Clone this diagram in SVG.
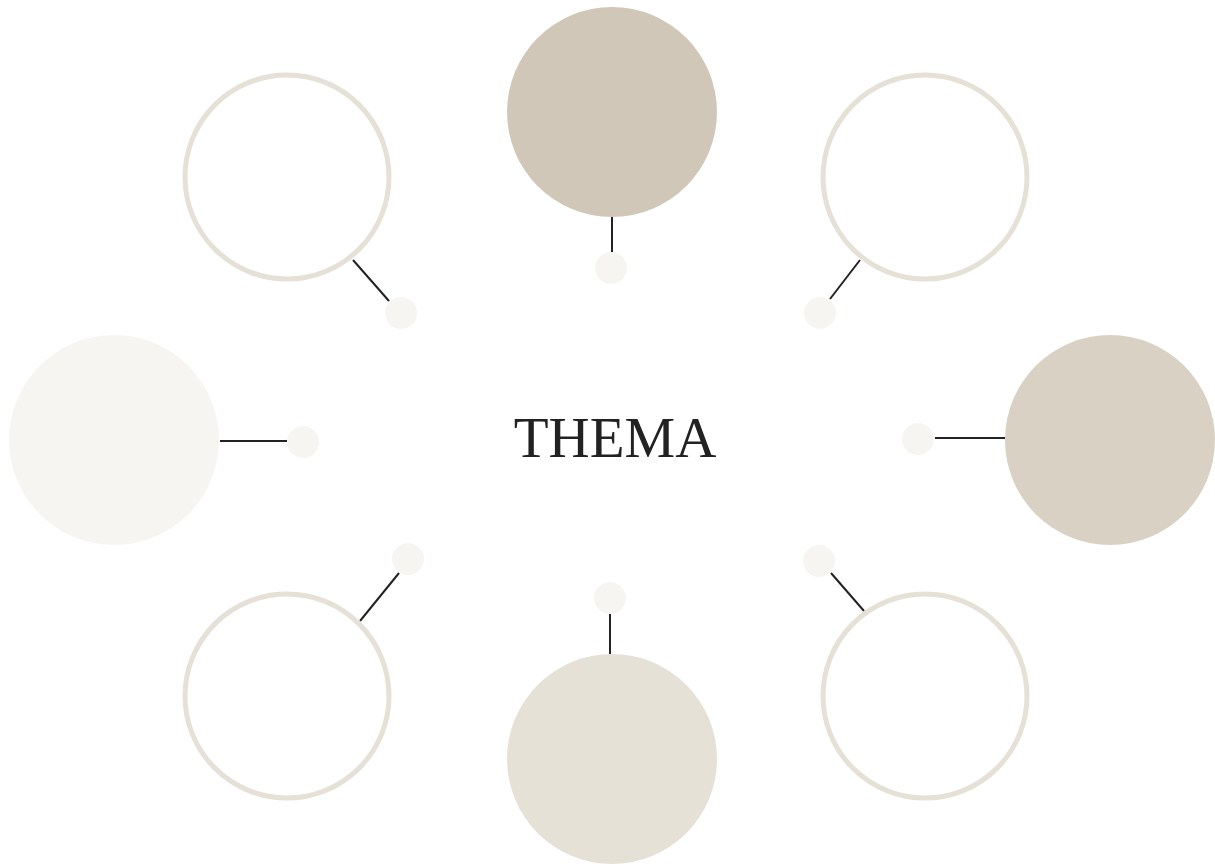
<svg xmlns="http://www.w3.org/2000/svg" width="1215" height="864" viewBox="0 0 1215 864">
<style>
.ring{fill:#fff;stroke:#e6e1d7;stroke-width:5}
.dot{fill:#f6f5f1}
.ln{stroke:#222;stroke-width:2;fill:none}
.t{font-family:"Liberation Serif","DejaVu Serif",serif;font-size:57px;fill:#222}
</style>
<rect width="1215" height="864" fill="#fff"/>
<g id="connectors">
<line class="ln" x1="612" y1="217" x2="612" y2="252"/>
<line class="ln" x1="353" y1="260" x2="389" y2="301"/>
<line class="ln" x1="860" y1="260" x2="830" y2="299"/>
<line class="ln" x1="220" y1="441" x2="287" y2="441"/>
<line class="ln" x1="935" y1="438" x2="1005" y2="438"/>
<line class="ln" x1="399" y1="573" x2="360" y2="621"/>
<line class="ln" x1="831" y1="573" x2="864" y2="611"/>
<line class="ln" x1="610" y1="614" x2="610" y2="654"/>
</g>
<g id="node-top"><circle cx="612" cy="112" r="105" fill="#d0c7b8"/></g>
<g id="node-bottom"><circle cx="612" cy="759" r="105" fill="#e6e1d7"/></g>
<g id="node-left"><circle cx="114" cy="440" r="105" fill="#f6f5f1"/></g>
<g id="node-right"><circle cx="1110" cy="440" r="105" fill="#d9d1c3"/></g>
<g id="node-tl"><circle class="ring" cx="287" cy="177" r="102"/></g>
<g id="node-tr"><circle class="ring" cx="925" cy="177" r="102"/></g>
<g id="node-bl"><circle class="ring" cx="287" cy="696" r="102"/></g>
<g id="node-br"><circle class="ring" cx="925" cy="696" r="102"/></g>
<g id="dots">
<circle class="dot" cx="611" cy="268" r="16"/>
<circle class="dot" cx="401" cy="313" r="16"/>
<circle class="dot" cx="820" cy="313" r="16"/>
<circle class="dot" cx="303" cy="442" r="16"/>
<circle class="dot" cx="918" cy="439" r="16"/>
<circle class="dot" cx="408" cy="559" r="16"/>
<circle class="dot" cx="819" cy="561" r="16"/>
<circle class="dot" cx="610" cy="598" r="16"/>
</g>
<g id="center"><text class="t" x="615" y="457" text-anchor="middle">THEMA</text></g>
</svg>
